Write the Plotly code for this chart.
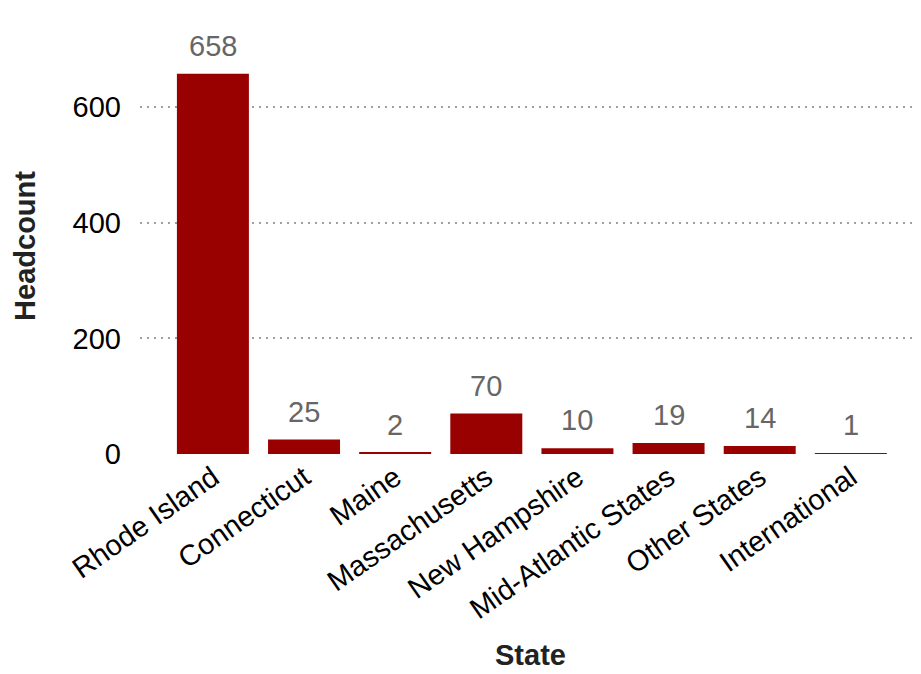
import plotly.graph_objects as go

states = ["Rhode Island", "Connecticut", "Maine", "Massachusetts", "New Hampshire",
          "Mid-Atlantic States", "Other States", "International"]
headcount = [658, 25, 2, 70, 10, 19, 14, 1]
y_ticks = [0, 200, 400, 600]

FONT = "Liberation Sans, Arial, sans-serif"

fig = go.Figure(go.Bar(
    x=states, y=headcount,
    marker=dict(color="#990000", line=dict(width=0)),
    cliponaxis=False,
))

for s, v in zip(states, headcount):
    fig.add_annotation(
        x=s, y=v, text=str(v), showarrow=False,
        yanchor="bottom", yshift=10,
        font=dict(color="#666666", size=29, family=FONT),
    )

fig.update_layout(
    width=921, height=674,
    margin=dict(l=132, r=8, t=30, b=228),
    paper_bgcolor="white", plot_bgcolor="white",
    font=dict(family=FONT, size=29, color="black"),
    bargap=0.21,
    showlegend=False,
    xaxis=dict(
        range=[-0.8, 7.77],
        tickangle=-35,
        showgrid=False, zeroline=False, showline=False,
        ticks="",
        tickfont=dict(size=29, color="black"),
        title=dict(text="<b>State</b>", font=dict(size=29, color="#222222"), standoff=20),
    ),
    yaxis=dict(
        range=[0, 720],
        tickvals=y_ticks,
        showgrid=True, gridcolor="#a0a0a0", gridwidth=2, griddash="2px,5px",
        zeroline=False, showline=False, ticks="",
        ticklen=0, ticklabelstandoff=18,
        tickfont=dict(size=29, color="black"),
        title=dict(text="<b>Headcount</b>", font=dict(size=29, color="#222222"), standoff=28),
    ),
)

fig.write_html("out.html")
